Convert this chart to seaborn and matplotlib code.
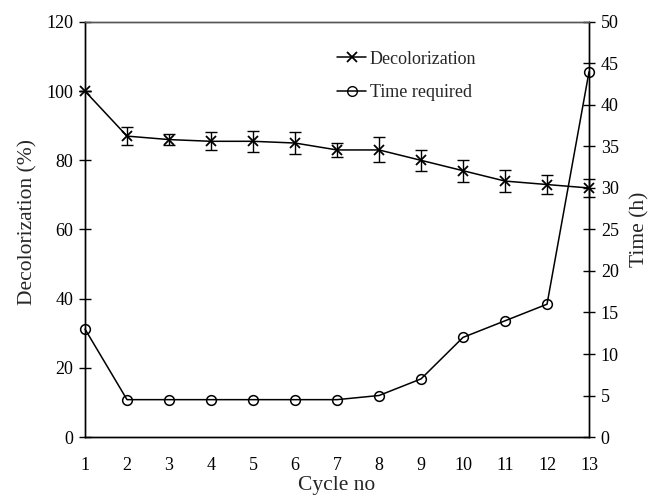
import matplotlib
matplotlib.use("Agg")
import matplotlib.pyplot as plt
import seaborn as sns
import pandas as pd
from matplotlib.lines import Line2D

cycles = [1, 2, 3, 4, 5, 6, 7, 8, 9, 10, 11, 12, 13]
decolorization = [100, 87, 86, 85.5, 85.5, 85, 83, 83, 80, 77, 74, 73, 72]
decol_err = [0, 2.5, 1.5, 2.6, 3.0, 3.2, 2.1, 3.6, 3.0, 3.2, 3.1, 2.8, 2.6]
time_required = [13, 4.5, 4.5, 4.5, 4.5, 4.5, 4.5, 5, 7, 12, 14, 16, 44]

left_ticks = [0, 20, 40, 60, 80, 100, 120]
right_ticks = [0, 5, 10, 15, 20, 25, 30, 35, 40, 45, 50]

sns.set_theme(style="white")
plt.rcParams["font.family"] = ["Liberation Serif", "DejaVu Serif"]
plt.rcParams["font.size"] = 13

df = pd.DataFrame({"cycle": cycles, "decol": decolorization,
                   "err": decol_err, "time": time_required})

fig = plt.figure(figsize=(6.51, 5.03), dpi=100)
ax = fig.add_axes([0.1306, 0.1312, 0.7742, 0.8251])
ax2 = ax.twinx()

# Decolorization with error bars
ax.errorbar(df["cycle"], df["decol"], yerr=df["err"], fmt="none",
            ecolor="black", elinewidth=1.0, capsize=4, capthick=1.0,
            clip_on=False, zorder=3)
sns.lineplot(data=df, x="cycle", y="decol", ax=ax, color="black",
             marker="x", markersize=7, markeredgewidth=1.3,
             markeredgecolor="black",
             linewidth=1.1, clip_on=False, zorder=4)

# Time required on the secondary axis
sns.lineplot(data=df, x="cycle", y="time", ax=ax2, color="black",
             marker="o", markersize=7, markerfacecolor="none",
             markeredgecolor="black", markeredgewidth=1.1,
             linewidth=1.1, clip_on=False, zorder=4)

ax.set_xlim(1, 13)
ax.set_ylim(0, 120)
ax2.set_ylim(0, 50)
ax.set_xticks(cycles)
ax.set_xticklabels([str(c) for c in cycles])
ax.set_yticks(left_ticks)
ax2.set_yticks(right_ticks)

for a in (ax, ax2):
    for s in a.spines.values():
        s.set_color("black")
        s.set_linewidth(1.0)
    a.spines["top"].set_color("#555555")
    a.tick_params(direction="inout", length=9, width=1.0, colors="black",
                  labelsize=13, pad=4)

ax.tick_params(axis="x", pad=10)
ax.set_xlabel("Cycle no", fontsize=15.5, labelpad=1)
ax.set_ylabel("Decolorization (%)", fontsize=15.5, labelpad=7)
ax.yaxis.set_label_coords(-0.095, 0.517)
ax2.set_ylabel("Time (h)", fontsize=15.5, labelpad=8)

handles = [
    Line2D([], [], color="black", marker="x", markersize=7,
           markeredgewidth=1.3, linewidth=1.1),
    Line2D([], [], color="black", marker="o", markersize=7,
           markerfacecolor="none", linewidth=1.1),
]
ax.legend(handles, ["Decolorization", "Time required"], loc="upper left",
          bbox_to_anchor=(0.468, 0.97), frameon=False, fontsize=13,
          handlelength=1.6, handletextpad=0.2, labelspacing=0.9)

fig.savefig("out.png", dpi=100)
